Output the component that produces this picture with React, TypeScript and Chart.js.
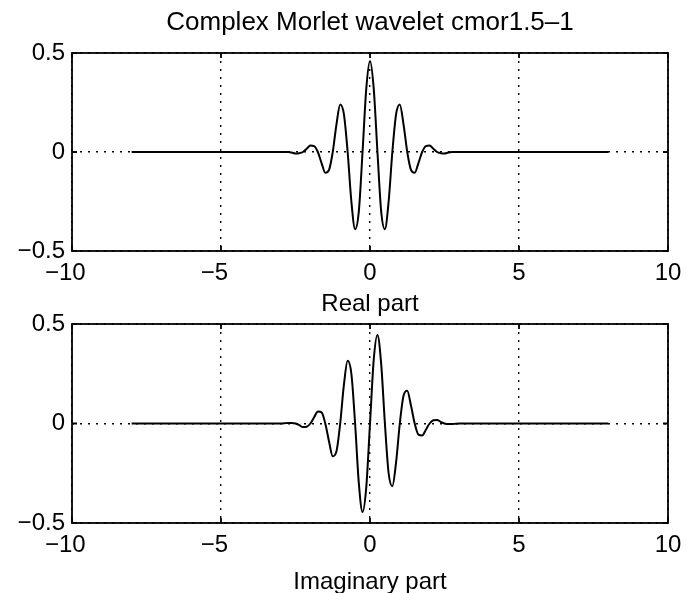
import React, { useEffect, useRef } from 'react';
import { Chart, registerables } from 'chart.js';

Chart.register(...registerables);

// ---- data ----
const xValues = [
  -8, -3, -2.875, -2.75, -2.625, -2.5, -2.375, -2.25, -2.125, -2, -1.875, -1.75, -1.625, -1.5, -1.375, -1.25,
  -1.125, -1, -0.875, -0.75, -0.625, -0.5, -0.375, -0.25, -0.125, 0, 0.125, 0.25, 0.375, 0.5, 0.625, 0.75,
  0.875, 1, 1.125, 1.25, 1.375, 1.5, 1.625, 1.75, 1.875, 2, 2.125, 2.25, 2.375, 2.5, 2.625, 2.75, 2.875, 3, 8,
];

const realPart = [
  0, 0, 0, 0, -0.003, -0.008, -0.006, 0, 0.016, 0.033, 0.03, 0, -0.056, -0.105, -0.09, 0,
  0.14, 0.24, 0.19, 0, -0.25, -0.39, -0.3, 0, 0.32, 0.46, 0.32, 0, -0.3, -0.39, -0.25, 0,
  0.19, 0.24, 0.14, 0, -0.09, -0.105, -0.056, 0, 0.03, 0.033, 0.016, 0, -0.006, -0.008, -0.003, 0, 0, 0, 0,
];

const imagPart = [
  0, 0, 0.001, 0.003, 0.003, 0, -0.008, -0.018, -0.016, 0, 0.031, 0.06, 0.056, 0, -0.09, -0.165,
  -0.14, 0, 0.195, 0.315, 0.25, 0, -0.3, -0.445, -0.32, 0, 0.32, 0.445, 0.3, 0, -0.25, -0.315,
  -0.195, 0, 0.14, 0.165, 0.09, 0, -0.056, -0.06, -0.031, 0, 0.016, 0.018, 0.008, 0, -0.003, -0.003, -0.001, 0, 0,
];

const xTicks = [-10, -5, 0, 5, 10];
const yTicks = [-0.5, 0, 0.5];

const chartTitle = 'Complex Morlet wavelet cmor1.5\u20131';
const realTitle = 'Real part';
const imagTitle = 'Imaginary part';

const FAMILY = '"Liberation Sans", Arial, Helvetica, sans-serif';

const fmt = (v: number) => (v < 0 ? '\u2212' + String(Math.abs(v)) : String(v));

const boxPlugin = {
  id: 'matlabBox',
  afterDatasetsDraw(chart: any) {
    const { ctx, chartArea } = chart;
    const { left, right, top, bottom } = chartArea;
    const xs = chart.scales.x;
    const ys = chart.scales.y;
    const L = 5;
    ctx.save();
    ctx.strokeStyle = '#000';
    ctx.lineWidth = 1.8;
    ctx.setLineDash([]);
    ctx.strokeRect(left, top, right - left, bottom - top);
    ctx.beginPath();
    xs.ticks.forEach((t: any) => {
      const px = xs.getPixelForValue(t.value);
      ctx.moveTo(px, bottom);
      ctx.lineTo(px, bottom - L);
      ctx.moveTo(px, top);
      ctx.lineTo(px, top + L);
    });
    ys.ticks.forEach((t: any) => {
      const py = ys.getPixelForValue(t.value);
      ctx.moveTo(left, py);
      ctx.lineTo(left + L, py);
      ctx.moveTo(right, py);
      ctx.lineTo(right - L, py);
    });
    ctx.stroke();
    ctx.restore();
  },
};

type Layout = {
  title?: string;
  axisTitle: string;
  padTop: number;
  xHeight: number;
  axisTitlePadBottom: number;
};

function buildConfig(values: number[], lay: Layout): any {
  return {
    type: 'line',
    data: {
      datasets: [
        {
          data: xValues.map((x, i) => ({ x, y: values[i] })),
          borderColor: '#000',
          borderWidth: 2,
          pointRadius: 0,
          cubicInterpolationMode: 'monotone',
          fill: false,
        },
      ],
    },
    options: {
      responsive: false,
      animation: false,
      devicePixelRatio: 1,
      layout: { padding: { left: 0, right: 19, top: lay.padTop, bottom: 0 } },
      plugins: {
        legend: { display: false },
        tooltip: { enabled: false },
        title: lay.title
          ? {
              display: true,
              text: lay.title,
              fullSize: false,
              color: '#000',
              font: { family: FAMILY, size: 26, weight: 'normal', lineHeight: 1.2 },
              padding: { top: 6.9, bottom: 14.9 },
            }
          : { display: false },
      },
      scales: {
        x: {
          type: 'linear',
          min: xTicks[0],
          max: xTicks[xTicks.length - 1],
          afterBuildTicks(scale: any) {
            scale.ticks = xTicks.map((v) => ({ value: v }));
          },
          afterFit(scale: any) {
            scale.height = lay.xHeight;
            scale.paddingLeft = 0;
            scale.paddingRight = 0;
          },
          grid: { color: '#000', lineWidth: 1.4, drawTicks: false },
          border: { display: false, dash: [2, 6] },
          ticks: {
            color: '#000',
            padding: 8,
            maxRotation: 0,
            autoSkip: false,
            font: { family: FAMILY, size: 24, lineHeight: 1.2 },
            callback: (v: number) => (v < 0 ? fmt(v) + '\u2007' : fmt(v)),
          },
          title: {
            display: true,
            text: lay.axisTitle,
            color: '#000',
            font: { family: FAMILY, size: 24, lineHeight: 1.2 },
            padding: { top: 0, bottom: lay.axisTitlePadBottom },
          },
        },
        y: {
          type: 'linear',
          min: yTicks[0],
          max: yTicks[yTicks.length - 1],
          afterBuildTicks(scale: any) {
            scale.ticks = yTicks.map((v) => ({ value: v }));
          },
          afterFit(scale: any) {
            scale.width = 72;
            scale.paddingTop = 0;
            scale.paddingBottom = 0;
          },
          grid: { color: '#000', lineWidth: 1.4, drawTicks: false },
          border: { display: false, dash: [2, 6] },
          ticks: {
            color: '#000',
            padding: 7,
            font: { family: FAMILY, size: 24, lineHeight: 1.2 },
            callback: (v: number) => fmt(v),
          },
        },
      },
    },
    plugins: [boxPlugin],
  };
}

export default function App() {
  const topRef = useRef<HTMLCanvasElement>(null);
  const botRef = useRef<HTMLCanvasElement>(null);

  useEffect(() => {
    const c1 = new Chart(
      topRef.current as HTMLCanvasElement,
      buildConfig(realPart, {
        title: chartTitle,
        axisTitle: realTitle,
        padTop: 0,
        xHeight: 79,
        axisTitlePadBottom: 11.6,
      })
    );
    const c2 = new Chart(
      botRef.current as HTMLCanvasElement,
      buildConfig(imagPart, {
        axisTitle: imagTitle,
        padTop: 28,
        xHeight: 83,
        axisTitlePadBottom: 9.6,
      })
    );
    return () => {
      c1.destroy();
      c2.destroy();
    };
  }, []);

  return (
    <div
      style={{
        position: 'absolute',
        left: 0,
        top: 0,
        width: 687,
        height: 593,
        overflow: 'hidden',
        background: '#fff',
      }}
    >
      <canvas ref={topRef} width={687} height={330} style={{ position: 'absolute', left: 0, top: 0 }} />
      <canvas ref={botRef} width={687} height={310} style={{ position: 'absolute', left: 0, top: 296 }} />
    </div>
  );
}
